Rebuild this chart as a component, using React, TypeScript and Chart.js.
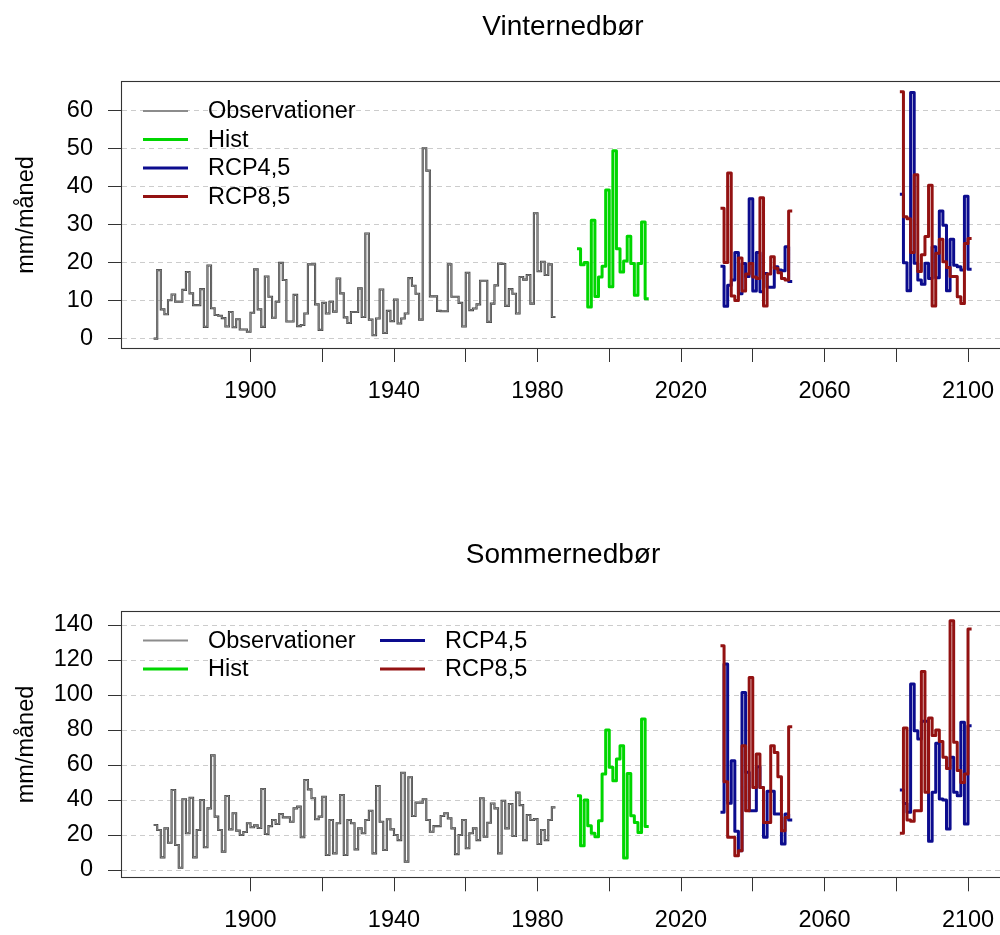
import React, { useEffect, useRef } from "react";
import { Chart, registerables } from "chart.js";

Chart.register(...registerables);

const FONT = '"Liberation Sans", Arial, Helvetica, sans-serif';
const BASE_SIZE = 23.5;
const TITLE_SIZE = 28;

// ---------- categories / ticks ----------
const OBS_FIRST_YEAR = 1873;
const HIST_FIRST_YEAR = 1991;
const MID_FIRST_YEAR = 2031;
const LATE_FIRST_YEAR = 2081;

const xTickYears = [1900, 1920, 1940, 1960, 1980, 2000, 2020, 2040, 2060, 2080, 2100];
const xLabelYears = [1900, 1940, 1980, 2020, 2060, 2100];
const winterYTicks = [0, 10, 20, 30, 40, 50, 60];
const summerYTicks = [0, 20, 40, 60, 80, 100, 120, 140];

const seriesNames = ["Observationer", "Hist", "RCP4,5", "RCP8,5"];

// ---------- Vinternedbør (mm/måned) ----------
const winterObs = [
  0, 18.0, 7.7, 6.4, 10.1, 11.6, 9.7, 9.7, 12.8, 17.5,
  11.9, 8.8, 8.8, 13.0, 3.1, 19.2, 8.0, 6.2, 6.0, 5.4,
  3.2, 7.0, 3.0, 5.1, 2.4, 2.4, 1.8, 6.8, 18.2, 7.7,
  3.1, 16.3, 11.0, 5.5, 9.7, 19.9, 15.4, 4.5, 4.5, 11.5,
  3.3, 3.6, 6.6, 19.5, 19.5, 9.0, 2.3, 9.4, 6.6, 9.7,
  7.1, 15.8, 11.9, 5.6, 4.1, 7.0, 7.0, 13.2, 5.7, 27.6,
  5.0, 0.9, 5.3, 12.9, 1.5, 7.3, 4.6, 10.3, 4.0, 5.3,
  6.6, 15.9, 13.9, 11.8, 5.0, 50.0, 44.1, 11.1, 11.1, 7.3,
  7.2, 7.2, 19.5, 11.0, 11.0, 9.4, 3.2, 17.3, 7.5, 7.9,
  9.0, 15.2, 15.2, 4.4, 9.2, 14.0, 19.7, 19.6, 8.6, 13.0,
  11.8, 6.6, 16.2, 15.5, 16.7, 9.2, 32.9, 17.7, 20.2, 16.7,
  19.5, 5.7,
];
const winterHist = [
  23.6, 19.4, 20.0, 8.3, 31.1, 11.1, 16.2, 19.0, 39.0, 13.6,
  49.3, 23.6, 17.5, 20.4, 26.9, 19.7, 11.4, 19.7, 30.6, 10.5,
];
const winterRcp45Mid = [
  19.0, 8.5, 14.0, 15.4, 22.6, 11.8, 19.7, 16.3, 36.7, 12.5,
  22.6, 12.3, 17.1, 13.5, 13.5, 18.9, 18.0, 17.8, 24.1, 15.0,
];
const winterRcp85Mid = [
  34.2, 20.0, 43.5, 11.2, 10.0, 21.2, 12.5, 17.0, 19.7, 16.2,
  15.8, 37.0, 8.6, 17.0, 21.5, 18.5, 17.3, 15.8, 15.4, 33.5,
];
const winterRcp45Late = [
  37.9, 19.9, 12.6, 64.6, 19.8, 15.4, 14.3, 19.8, 15.8, 24.1,
  16.0, 33.5, 29.8, 12.6, 26.1, 19.3, 18.9, 18.0, 37.4, 18.2,
];
const winterRcp85Late = [
  64.8, 32.0, 31.5, 22.6, 43.0, 17.6, 22.0, 26.8, 40.3, 8.6,
  22.4, 26.1, 20.2, 18.7, 16.3, 16.3, 11.0, 9.2, 25.0, 26.3,
];

// ---------- Sommernedbør (mm/måned) ----------
const summerObs = [
  25.7, 22.9, 7.2, 23.8, 15.6, 45.7, 14.3, 1.3, 40.4, 21.0,
  41.3, 7.2, 22.9, 40.0, 13.0, 35.2, 65.5, 30.5, 22.9, 10.5,
  42.3, 23.2, 32.4, 22.5, 20.0, 21.7, 26.7, 24.4, 25.5, 24.0,
  46.3, 20.6, 25.1, 28.6, 26.3, 32.0, 30.1, 30.1, 27.6, 35.2,
  36.2, 18.7, 51.4, 46.1, 41.0, 29.0, 30.5, 41.9, 8.6, 28.6,
  9.5, 26.7, 42.9, 8.6, 28.6, 26.7, 11.8, 23.8, 21.0, 28.6,
  33.9, 9.5, 48.0, 27.6, 11.4, 29.0, 23.2, 20.0, 17.1, 55.6,
  4.8, 53.0, 30.9, 38.5, 38.5, 40.4, 28.6, 21.9, 25.1, 25.1,
  30.9, 32.4, 29.5, 23.8, 9.1, 20.0, 28.6, 12.4, 21.0, 23.8,
  17.1, 41.0, 19.0, 27.0, 38.0, 35.2, 9.5, 39.6, 23.8, 37.7,
  19.4, 44.2, 37.1, 17.1, 31.4, 28.6, 29.1, 14.9, 22.9, 17.1,
  28.6, 35.8,
];
const summerHist = [
  42.5, 13.9, 40.0, 25.3, 21.0, 19.0, 28.2, 54.9, 80.0, 58.7,
  51.0, 63.4, 71.0, 6.9, 55.2, 31.0, 27.2, 21.5, 86.3, 24.8,
];
const summerRcp45Mid = [
  33.0, 117.7, 38.1, 62.5, 22.1, 11.0, 101.5, 55.8, 33.9, 33.9,
  59.0, 47.2, 18.7, 45.0, 45.0, 32.0, 32.0, 14.9, 32.0, 28.6,
];
const summerRcp85Mid = [
  128.2, 50.5, 18.7, 18.7, 8.2, 11.0, 71.0, 33.9, 110.0, 47.2,
  66.3, 47.2, 27.2, 27.2, 71.0, 67.2, 53.3, 22.5, 30.0, 81.9,
];
const summerRcp45Late = [
  45.7, 38.0, 33.0, 106.3, 79.6, 74.9, 85.0, 85.0, 16.4, 44.4,
  72.4, 40.6, 40.0, 23.4, 64.4, 44.4, 42.5, 84.4, 26.3, 82.5,
];
const summerRcp85Late = [
  21.0, 81.1, 28.6, 27.8, 33.9, 33.9, 113.5, 44.4, 86.9, 76.8,
  80.0, 73.5, 64.4, 58.0, 142.5, 73.0, 56.8, 50.0, 54.9, 137.7,
];

// ---------- styles / layout ----------
const OBS_DARK = "#3e3e3e";
const OBS_LIGHT = "#bdbdbd";
const HIST_COLOR = "#00d600";
const RCP45_COLOR = "#0c0c8e";
const RCP85_COLOR = "#931212";
const GRID_COLOR = "#cccccc";
const AXIS_COLOR = "#333333";

const CANVAS_W = 1010;
const PLOT_LEFT = 122;
const PLOT_RIGHT = 1004;
const X_MIN = 1864.18;
const X_MAX = 2110.03;
const TICK_LEN = 14;

type Kind = "obs" | "hist" | "rcp45" | "rcp85";

type PanelSpec = {
  title: string;
  offsetTop: number;
  height: number;
  plotTop: number;
  xAxisHeight: number;
  titleBaseline: number;
  yMin: number;
  yMax: number;
  yTicks: number[];
  obs: number[];
  hist: number[];
  rcp45Mid: number[];
  rcp85Mid: number[];
  rcp45Late: number[];
  rcp85Late: number[];
  legend: { kind: Kind; x: number; y: number; name: string }[];
};

function stepPoints(firstYear: number, values: number[]) {
  const pts = values.map((v, i) => ({ x: firstYear + i, y: v }));
  pts.push({ x: firstYear + values.length, y: values[values.length - 1] });
  return pts;
}

const panels: PanelSpec[] = [
  {
    title: "Vinternedbør",
    offsetTop: 0,
    height: 467,
    plotTop: 82,
    xAxisHeight: 119,
    titleBaseline: 35,
    yMin: -2.45,
    yMax: 67.37,
    yTicks: winterYTicks,
    obs: winterObs,
    hist: winterHist,
    rcp45Mid: winterRcp45Mid,
    rcp85Mid: winterRcp85Mid,
    rcp45Late: winterRcp45Late,
    rcp85Late: winterRcp85Late,
    legend: [
      { kind: "obs", x: 143, y: 111, name: seriesNames[0] },
      { kind: "hist", x: 143, y: 139.5, name: seriesNames[1] },
      { kind: "rcp45", x: 143, y: 168, name: seriesNames[2] },
      { kind: "rcp85", x: 143, y: 196.5, name: seriesNames[3] },
    ],
  },
  {
    title: "Sommernedbør",
    offsetTop: 467,
    height: 468,
    plotTop: 144.7,
    xAxisHeight: 57.7,
    titleBaseline: 96,
    yMin: -4.17,
    yMax: 147.6,
    yTicks: summerYTicks,
    obs: summerObs,
    hist: summerHist,
    rcp45Mid: summerRcp45Mid,
    rcp85Mid: summerRcp85Mid,
    rcp45Late: summerRcp45Late,
    rcp85Late: summerRcp85Late,
    legend: [
      { kind: "obs", x: 143, y: 173.5, name: seriesNames[0] },
      { kind: "hist", x: 143, y: 202, name: seriesNames[1] },
      { kind: "rcp45", x: 380, y: 173.5, name: seriesNames[2] },
      { kind: "rcp85", x: 380, y: 202, name: seriesNames[3] },
    ],
  },
];

function strokeSeg(ctx: CanvasRenderingContext2D, x1: number, x2: number, y: number, color: string, w: number) {
  ctx.beginPath();
  ctx.strokeStyle = color;
  ctx.lineWidth = w;
  ctx.moveTo(x1, y);
  ctx.lineTo(x2, y);
  ctx.stroke();
}

function makeDecor(spec: PanelSpec) {
  return {
    id: "decor",
    afterDraw(chart: any) {
      const ctx: CanvasRenderingContext2D = chart.ctx;
      const ca = chart.chartArea;
      ctx.save();
      // box
      ctx.strokeStyle = AXIS_COLOR;
      ctx.lineWidth = 1.1;
      ctx.strokeRect(Math.round(ca.left) - 0.5, Math.round(ca.top) - 0.5, ca.right - ca.left, Math.round(ca.bottom) - Math.round(ca.top) + 1);
      // title
      ctx.fillStyle = "#000";
      ctx.font = `${TITLE_SIZE}px ${FONT}`;
      ctx.textAlign = "center";
      ctx.textBaseline = "alphabetic";
      ctx.fillText(spec.title, (ca.left + ca.right) / 2, spec.titleBaseline);
      // y-axis title
      ctx.save();
      ctx.translate(33, (ca.top + ca.bottom) / 2);
      ctx.rotate(-Math.PI / 2);
      ctx.font = `${BASE_SIZE}px ${FONT}`;
      ctx.textAlign = "center";
      ctx.textBaseline = "alphabetic";
      ctx.fillText("mm/måned", 0, 0);
      ctx.restore();
      // legend
      ctx.lineCap = "butt";
      for (const item of spec.legend) {
        const x1 = item.x;
        const x2 = item.x + 45;
        if (item.kind === "obs") {
          strokeSeg(ctx, x1, x2, item.y, "#8c8c8c", 2);
        } else {
          const c = item.kind === "hist" ? HIST_COLOR : item.kind === "rcp45" ? RCP45_COLOR : RCP85_COLOR;
          strokeSeg(ctx, x1, x2, item.y, c, 3);
        }
        ctx.fillStyle = "#000";
        ctx.font = `${BASE_SIZE}px ${FONT}`;
        ctx.textAlign = "left";
        ctx.textBaseline = "middle";
        ctx.fillText(item.name, item.x + 65, item.y + 1);
      }
      ctx.restore();
    },
  };
}

function buildConfig(spec: PanelSpec): any {
  const common = { stepped: "before", pointRadius: 0, fill: false, tension: 0, borderJoinStyle: "round" };
  const datasets = [
    { ...common, label: "RCP8,5", data: stepPoints(MID_FIRST_YEAR, spec.rcp85Mid), borderColor: RCP85_COLOR, borderWidth: 3, order: 0 },
    { ...common, label: "RCP8,5", data: stepPoints(LATE_FIRST_YEAR, spec.rcp85Late), borderColor: RCP85_COLOR, borderWidth: 3, order: 0 },
    { ...common, label: "RCP4,5", data: stepPoints(MID_FIRST_YEAR, spec.rcp45Mid), borderColor: RCP45_COLOR, borderWidth: 3, order: 1 },
    { ...common, label: "RCP4,5", data: stepPoints(LATE_FIRST_YEAR, spec.rcp45Late), borderColor: RCP45_COLOR, borderWidth: 3, order: 1 },
    { ...common, label: "Hist", data: stepPoints(HIST_FIRST_YEAR, spec.hist), borderColor: HIST_COLOR, borderWidth: 3, order: 2 },
    { ...common, label: "Observationer", data: stepPoints(OBS_FIRST_YEAR, spec.obs), borderColor: OBS_LIGHT, borderWidth: 0.6, borderJoinStyle: "miter", order: 3 },
    { ...common, label: "Observationer", data: stepPoints(OBS_FIRST_YEAR, spec.obs), borderColor: OBS_DARK, borderWidth: 2.1, borderJoinStyle: "miter", order: 4 },
  ];
  return {
    type: "line",
    data: { datasets },
    plugins: [makeDecor(spec)],
    options: {
      responsive: false,
      animation: false,
      devicePixelRatio: 1,
      events: [],
      layout: { padding: { left: 0, right: CANVAS_W - PLOT_RIGHT, top: spec.plotTop, bottom: 0 } },
      plugins: { legend: { display: false }, title: { display: false }, tooltip: { enabled: false } },
      scales: {
        x: {
          type: "linear",
          min: X_MIN,
          max: X_MAX,
          afterBuildTicks: (s: any) => {
            s.ticks = xTickYears.map((v) => ({ value: v }));
          },
          afterFit: (s: any) => {
            s.height = spec.xAxisHeight;
          },
          ticks: {
            autoSkip: false,
            maxRotation: 0,
            minRotation: 0,
            padding: 15,
            color: "#000",
            font: { family: FONT, size: BASE_SIZE },
            callback: (v: any) => (xLabelYears.includes(Number(v)) ? String(v) : ""),
          },
          grid: { drawOnChartArea: false, drawTicks: true, tickLength: TICK_LEN, tickColor: AXIS_COLOR, tickWidth: 1 },
          border: { display: false },
        },
        y: {
          type: "linear",
          min: spec.yMin,
          max: spec.yMax,
          afterBuildTicks: (s: any) => {
            s.ticks = spec.yTicks.map((v) => ({ value: v }));
          },
          afterFit: (s: any) => {
            s.width = PLOT_LEFT;
          },
          ticks: {
            padding: 15,
            color: "#000",
            font: { family: FONT, size: BASE_SIZE },
            callback: (v: any) => String(v),
          },
          grid: {
            drawOnChartArea: true,
            color: GRID_COLOR,
            lineWidth: 1,
            drawTicks: true,
            tickLength: TICK_LEN,
            tickColor: AXIS_COLOR,
            tickWidth: 1,
          },
          border: { display: false, dash: [5, 4] },
        },
      },
    },
  };
}

function Panel({ spec }: { spec: PanelSpec }) {
  const ref = useRef<HTMLCanvasElement | null>(null);
  useEffect(() => {
    const canvas = ref.current;
    if (!canvas) return;
    const chart = new Chart(canvas, buildConfig(spec));
    return () => chart.destroy();
  }, [spec]);
  return (
    <canvas
      ref={ref}
      width={CANVAS_W}
      height={spec.height}
      style={{ position: "absolute", left: 0, top: spec.offsetTop, width: CANVAS_W, height: spec.height, display: "block" }}
    />
  );
}

export default function App() {
  return (
    <div
      style={{
        position: "fixed",
        left: 0,
        top: 0,
        width: 1000,
        height: 935,
        overflow: "hidden",
        background: "#ffffff",
      }}
    >
      {panels.map((p) => (
        <Panel key={p.title} spec={p} />
      ))}
    </div>
  );
}
